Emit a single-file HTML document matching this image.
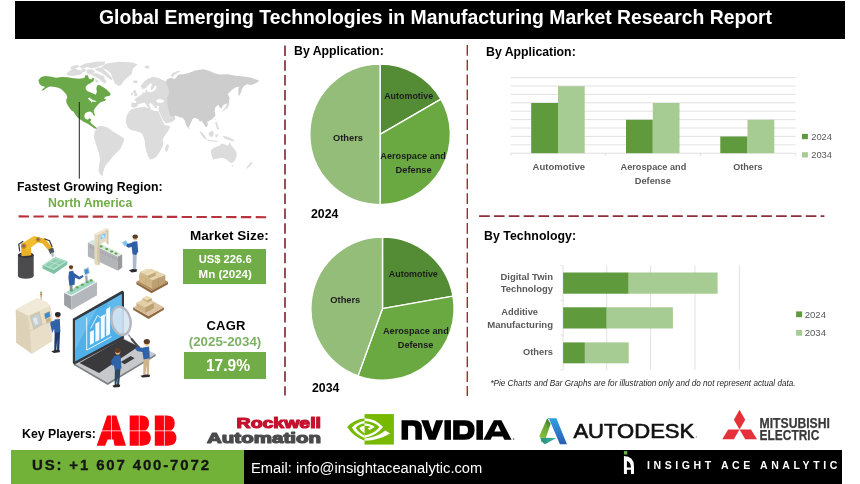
<!DOCTYPE html>
<html>
<head>
<meta charset="utf-8">
<title>Global Emerging Technologies in Manufacturing Market Research Report</title>
<style>
html,body{margin:0;padding:0;background:#fff;}
body{width:860px;height:484px;position:relative;overflow:hidden;font-family:"Liberation Sans",sans-serif;color:#000;}
.a{position:absolute;}
.t,.c,svg{will-change:transform;}
.t{position:absolute;white-space:nowrap;line-height:1;transform-origin:0 0;font-weight:bold;}
.c{position:absolute;white-space:nowrap;line-height:1;font-weight:bold;text-align:center;transform-origin:50% 0;}
svg{position:absolute;left:0;top:0;overflow:visible;}
</style>
</head>
<body>
<!-- title bar -->
<div class="a" id="titlebar" style="left:15px;top:1.2px;width:830px;height:37.9px;background:#000;"></div>
<div class="t" id="title" style="left:99.3px;top:7.5px;font-size:19.37px;color:#fff;">Global Emerging Technologies in Manufacturing Market Research Report</div>

<!-- main svg layer: lines, charts -->
<svg id="main" width="860" height="484" viewBox="0 0 860 484">
  <!-- dashed separators -->
  <g fill="none">
    <line x1="18.6" y1="216.4" x2="266.2" y2="217.2" stroke="#b8323c" stroke-width="2.1" stroke-dasharray="10.4 4.42"/>
    <line x1="479.1" y1="216.2" x2="824.4" y2="216.2" stroke="#8e2c38" stroke-width="1.7" stroke-dasharray="10.6 4.25"/>
    <line x1="285" y1="45.5" x2="285" y2="395.6" stroke="#8c3c48" stroke-width="1.8" stroke-dasharray="10.5 4.31"/>
    <line x1="467.3" y1="44.9" x2="467.3" y2="396" stroke="#a82830" stroke-width="1.4" stroke-dasharray="10.85 3.985"/>
  </g>

<!--MAP-->
<g id="map">
<g fill="#dcdcdc">
  <path d="M100.6 67.6L106.4 63.4L119.0 61.8L132.7 62.4L137.4 64.5L132.7 68.7L131.7 74.0L125.3 79.2L120.6 85.6L118.5 86.1L114.8 83.5L112.7 78.2L110.6 72.9L106.4 69.8Z"/>
  <path d="M66.3 74.0L69.5 70.8L74.8 68.2L77.9 69.8L81.1 70.8L82.7 73.4L79.0 75.0L72.6 76.1L67.9 75.5Z"/>
  <path d="M79.0 66.6L85.3 63.4L91.6 62.4L97.9 61.5L105.3 61.8L104.3 64.5L100.0 66.1L95.8 67.6L91.6 68.2L87.4 67.1L82.7 68.7Z"/>
  <path d="M86.3 69.8L91.6 69.2L94.8 70.8L93.7 73.4L89.5 74.5L86.9 72.9Z"/>
  <path d="M90.6 74.5L95.8 72.9L100.0 74.5L103.7 77.7L106.4 81.3L105.3 83.5L102.1 81.9L99.0 78.7L94.8 76.6Z"/>
  <path d="M94.8 79.2L97.9 80.3L99.0 82.6L96.4 82.6Z"/>
  <path d="M70.0 67.6L73.7 65.5L77.9 65.0L79.5 66.6L75.8 68.2L71.6 69.8Z"/>
  <path d="M81.1 69.8L84.2 68.5L86.1 69.8L84.8 71.9L82.1 72.4Z"/>
  <path d="M94.8 68.7L98.5 67.4L102.1 67.9L105.3 70.8L109.5 75.0L112.7 78.7L111.6 80.3L107.9 77.7L104.3 74.5L100.0 71.9L96.4 70.8Z"/>
  <path d="M100.0 76.1L103.2 75.5L104.8 77.7L102.1 78.4Z"/>
  <path d="M132.7 81.1L135.9 80.3L138.2 81.6L136.9 83.0L133.8 83.0Z"/>
  <path d="M144.3 66.4L147.5 65.5L149.8 66.8L148.0 68.7L145.4 68.2Z"/>
  <path d="M133.8 89.8L135.7 90.3L136.1 92.4L137.4 94.2L136.9 95.9L133.8 96.3L134.6 94.2L133.3 92.4Z"/>
  <path d="M130.8 92.9L132.7 92.4L132.9 94.8L131.1 95.4Z"/>
  <path d="M96.3 127.7L99.6 125.9L103.8 126.2L108.1 127.7L112.9 131.5L118.2 134.5L124.2 138.6L123.5 142.0L120.5 148.8L116.7 152.6L112.9 156.4L109.1 161.2L105.4 165.5L103.8 170.0L102.8 173.8L103.1 176.1L101.1 175.3L98.5 171.5L99.0 165.5L100.1 159.4L98.5 151.9L95.5 142.8L94.0 137.5L94.5 132.2Z"/>
  <path d="M126.5 116.3L128.8 111.8L131.1 109.5L137.1 107.7L144.7 106.8L150.7 109.2L154.5 111.0L158.3 111.3L160.5 116.3L162.8 121.6L164.6 125.0L170.4 125.9L168.8 129.9L165.1 135.2L162.8 139.0L163.1 145.8L160.5 150.4L156.7 156.4L153.0 159.1L149.9 159.4L147.7 155.6L146.2 151.1L145.0 145.1L144.7 140.5L142.8 135.2L141.3 133.0L135.6 131.0L131.1 129.9L128.0 127.7L125.8 122.4Z"/>
  <path d="M167.6 144.0L169.1 145.5L167.6 150.4L165.8 152.2L165.1 148.8L166.1 145.5Z"/>
  <path d="M168.0 82.1L162.6 79.9L158.6 78.1L153.2 76.8L147.8 78.8L143.8 82.1L140.8 85.5L141.8 88.9L145.1 88.5L147.8 85.8L150.8 83.1L152.1 84.4L150.8 87.5L151.3 90.6L153.2 88.9L154.8 85.8L156.7 86.3L155.9 88.9L153.9 91.1L150.5 92.2L147.8 91.9L146.7 89.8L145.4 90.6L145.1 92.9L143.1 91.9L142.2 94.2L139.1 96.2L135.7 98.3L134.1 100.3L136.4 101.3L136.0 103.0L131.7 102.4L130.9 106.3L133.3 107.8L136.5 107.0L138.2 104.6L141.8 103.2L144.6 102.4L146.5 105.0L149.4 109.4L150.8 108.6L148.9 104.3L150.5 102.7L153.5 105.4L155.3 108.6L157.5 107.8L156.7 105.4L159.6 106.3L158.6 107.2L158.7 110.7L160.6 115.0L163.0 119.9L165.7 123.6L172.0 122.0L175.5 119.3L174.9 116.4L172.7 113.7L171.3 111.7L173.3 111.7L173.3 100.3L170.6 86.8Z"/>
  <path d="M170.7 75.3L173.6 72.6L178.0 71.0L180.8 71.3L177.2 72.9L174.0 75.3L172.7 77.5Z"/>
  <path d="M210.7 150.2L215.2 147.2L219.8 145.4L222.0 143.5L225.1 144.5L228.1 145.7L229.6 142.0L231.1 145.0L234.1 148.7L236.4 152.1L236.7 156.3L234.9 160.8L231.8 163.1L229.6 162.3L226.6 159.6L222.8 157.8L218.3 158.5L213.0 159.6L211.5 155.5Z"/>
  <path d="M231.1 165.0L233.3 165.0L232.6 166.8Z"/>
  <path d="M250.7 162.0L252.7 162.6L250.7 165.3L248.4 167.6L246.2 169.1L246.9 166.8L249.2 164.6Z"/>
  <path d="M199.4 131.4L201.4 131.8L204.4 135.2L207.0 138.9L205.4 139.4L202.4 136.4Z"/>
  <path d="M208.5 132.9L212.2 130.6L214.0 132.9L213.0 136.4L209.5 136.7Z"/>
  <path d="M207.0 139.7L212.2 140.3L218.3 140.9L218.0 141.8L212.2 141.5L207.3 140.7Z"/>
  <path d="M215.2 134.4L218.0 134.0L217.1 137.4L215.6 137.4Z"/>
  <path d="M222.8 135.9L226.6 136.4L230.3 137.9L234.9 140.4L232.6 141.2L228.8 140.0L224.3 138.5Z"/>
  <path d="M215.2 121.9L217.1 122.3L218.0 126.1L219.2 129.1L217.7 129.9L216.0 126.1Z"/>
  <path d="M214.6 118.9L215.7 118.9L215.2 120.7Z"/>
  <path d="M227.7 99.8L229.6 103.8L227.7 107.9L224.4 110.3L222.0 111.2L225.2 107.4L226.9 103.8Z"/>
</g>
  <path d="M156.1 100.3L159.2 98.9L163.3 99.7L164.2 101.9L160.6 103.0L157.2 102.4Z" fill="#fff"/>
<g fill="#cdcdcd">
  <path d="M166.6 79.4L170.7 77.8L174.8 79.1L178.8 74.5L183.7 74.2L188.6 72.9L195.1 70.5L203.3 69.3L209.8 71.0L214.6 73.2L219.5 74.5L227.7 74.2L235.8 75.8L244.0 76.5L250.5 77.5L259.4 80.7L255.3 83.5L251.3 85.1L247.2 84.3L244.0 85.9L242.3 88.4L240.7 93.3L238.7 94.9L238.3 90.0L239.4 86.7L235.8 87.2L231.7 90.0L227.7 94.1L229.6 98.1L229.0 102.5L226.0 103.8L222.8 105.5L221.5 108.4L219.5 107.4L218.7 104.7L215.5 107.1L214.6 111.2L215.5 115.6L212.2 119.3L209.8 120.4L207.3 121.7L207.8 125.3L206.2 127.4L204.1 124.7L201.6 120.4L200.0 122.1L198.4 119.3L195.1 117.7L192.7 118.8L190.6 123.4L188.3 128.6L186.2 125.0L184.5 120.1L182.4 117.7L178.8 116.9L175.6 115.6L172.7 116.9L169.9 115.2L168.7 110.3L167.4 103.8L167.1 98.1L169.1 94.1L168.3 87.6L166.1 83.5Z"/>
  <path d="M238.7 90.0L240.0 94.9L238.7 95.7Z"/>
  <path d="M189.3 127.6L190.2 127.9L189.8 129.4Z"/>
</g>
<path d="M38.4 80.2L40.9 77.3L44.5 75.9L50.3 76.6L56.0 77.7L61.8 76.9L67.6 77.3L73.4 78.3L79.2 78.7L84.3 78.0L85.7 75.1L87.9 75.4L89.0 78.7L91.5 79.5L92.5 77.7L94.0 78.0L93.7 80.9L90.8 83.1L87.9 84.5L85.7 86.7L85.7 88.9L87.2 91.0L90.8 92.5L93.7 93.7L95.8 94.7L96.9 91.8L96.3 88.2L97.3 85.3L99.5 85.0L102.4 86.7L106.0 88.9L108.9 91.8L110.8 93.9L109.6 95.7L106.0 96.5L103.8 98.3L106.4 99.4L104.5 100.9L100.9 101.9L98.7 103.8L96.6 106.2L94.8 108.4L93.7 111.0L94.4 113.5L95.1 115.7L93.7 115.4L92.2 112.8L90.1 111.6L87.2 112.0L85.0 113.5L84.3 115.9L85.0 118.5L87.6 119.7L89.6 118.3L91.5 119.7L90.1 121.7L91.5 123.6L93.7 125.5L95.8 126.9L96.9 128.7L94.4 128.4L90.8 125.8L87.2 123.6L83.5 121.7L80.7 119.7L77.8 117.8L76.3 115.9L73.4 111.6L72.0 111.0L69.8 108.4L67.9 105.5L66.5 102.9L66.2 99.7L67.3 97.6L66.5 94.7L64.0 91.8L61.1 88.9L57.5 87.4L53.2 86.7L49.5 86.4L46.6 87.9L43.7 89.9L41.3 91.3L42.7 88.9L45.2 86.7L41.6 86.0L39.4 83.8Z" fill="#6aa84a"/>
<path d="M87.9 98.6L89.6 97.6L90.8 98.6L92.5 99.7L94.8 100.5L96.9 101.2L94.8 102.0L92.5 101.5L91.5 102.9L90.5 100.9L89.0 99.7Z" fill="#fff" opacity="0.9"/>
<line x1="79.3" y1="102" x2="79.3" y2="178.7" stroke="#222" stroke-width="1"/></g>

<!--/MAP-->
<!--ILLU-->
<g id="illu">
<path d="M17.9 254.9L33.7 254.9L33.7 276.0L17.9 276.0Z" fill="#4b4b4d"/>
<ellipse cx="25.8" cy="276.0" rx="7.9" ry="2.8" fill="#4b4b4d"/>
<ellipse cx="25.8" cy="254.9" rx="7.9" ry="2.8" fill="#2f2f31"/>
<ellipse cx="25.8" cy="254.5" rx="5.3" ry="1.8" fill="#5a5a5c"/>
<path d="M20.9 244.3L30.7 242.6L31.4 255.2L21.6 256.3Z" fill="#eab02a"/>
<path d="M20.9 244.3L33.7 235.9L39.0 237.3L39.5 241.2L30.7 247.8L27.6 251.4Z" fill="#f2bd33"/>
<path d="M36.4 237.0L45.1 238.7L53.1 248.7L49.5 251.4L42.5 243.5L37.2 242.2Z" fill="#eab02a"/>
<ellipse cx="23.7" cy="246.1" rx="2.8" ry="2.8" fill="#c9931c"/>
<ellipse cx="38.1" cy="239.4" rx="2.5" ry="2.5" fill="#c9931c"/>
<ellipse cx="23.7" cy="246.1" rx="1.4" ry="1.4" fill="#6b6b6b"/>
<ellipse cx="38.1" cy="239.4" rx="1.2" ry="1.2" fill="#6b6b6b"/>
<path d="M19.7 251.4L18.8 244.3L23.2 241.2" fill="none" stroke="#3a3a3a" stroke-width="1.2"/>
<path d="M44.3 238.7L49.5 240.8L52.2 247.0" fill="none" stroke="#3a3a3a" stroke-width="1.2"/>
<path d="M48.3 249.3L53.1 247.5L54.3 252.2L50.1 254.0Z" fill="#4d5560"/>
<path d="M50.8 253.1L53.2 252.4L53.9 256.3L52.2 257.0Z" fill="#aeb6bf"/>
<path d="M42.5 265.2L55.2 257.0L67.3 261.2L67.3 264.4L53.9 274.0L42.5 268.6Z" fill="#7fc2a3"/>
<path d="M42.5 265.2L55.2 257.0L67.3 261.2L53.9 270.0Z" fill="#b5e2cd"/>
<path d="M44.8 265.2L55.0 258.6L64.8 261.6L53.9 268.2Z" fill="#8fcdb0"/>
<path d="M49.0 261.2L59.9 265.1" fill="none" stroke="#b5e2cd" stroke-width="0.9"/>
<path d="M49.4 266.7L60.1 260.0" fill="none" stroke="#b5e2cd" stroke-width="0.9"/>
<path d="M51.5 253.1L52.2 257.5" fill="none" stroke="#c8cdd2" stroke-width="0.5"/>
<path d="M52.9 252.8L56.0 257.0" fill="none" stroke="#c8cdd2" stroke-width="0.5"/>
<path d="M64.1 292.7L71.5 296.2L71.5 310.1L64.1 305.0Z" fill="#9c9fa3"/>
<path d="M71.5 296.2L97.0 282.1L97.0 295.3L71.5 310.1Z" fill="#b4b7bb"/>
<path d="M64.1 292.7L90.0 278.6L97.0 282.1L71.5 296.2Z" fill="#e9f1f0"/>
<path d="M65.9 292.5L90.1 279.7L95.1 282.1L71.3 294.9Z" fill="#9fd6c6"/>
<ellipse cx="71.5" cy="290.4" rx="1.6" ry="1.1" fill="#5fa83f"/>
<ellipse cx="77.1" cy="287.4" rx="1.6" ry="1.1" fill="#5fa83f"/>
<ellipse cx="82.4" cy="284.8" rx="1.6" ry="1.1" fill="#5fa83f"/>
<ellipse cx="87.3" cy="282.1" rx="1.6" ry="1.1" fill="#5fa83f"/>
<ellipse cx="91.2" cy="280.4" rx="1.6" ry="1.1" fill="#5fa83f"/>
<path d="M85.2 276.0L87.3 275.3L87.7 281.2L85.6 281.9Z" fill="#9aa0a6"/>
<path d="M83.5 268.9L88.7 266.8L90.0 273.3L84.7 276.0Z" fill="#c9ced3"/>
<path d="M84.3 270.0L88.0 268.4L88.9 272.8L85.2 274.4Z" fill="#3b93d6"/>
<path d="M69.6 283.9L72.7 283.9L72.4 290.4L69.8 290.4Z" fill="#8a8f96"/>
<path d="M69.0 271.6L73.2 270.7L75.0 277.7L74.6 284.8L69.4 285.6L68.4 277.7Z" fill="#2f5fa5"/>
<path d="M73.3 272.5L79.4 276.8L82.9 275.1L83.5 276.7L79.4 279.5L72.9 276.8Z" fill="#2f5fa5"/>
<ellipse cx="71.0" cy="268.0" rx="1.8" ry="2.2" fill="#e9b98c"/>
<ellipse cx="71.0" cy="267.1" rx="2.2" ry="1.8" fill="#5a3d22"/>
<path d="M87.9 242.2L117.8 256.6L117.8 270.7L87.9 256.6Z" fill="#b3b5b8"/>
<path d="M117.8 256.6L122.2 254.2L122.2 267.5L117.8 270.7Z" fill="#989a9e"/>
<path d="M87.9 242.2L92.7 239.8L122.2 254.2L117.8 256.6Z" fill="#e4ebe9"/>
<path d="M89.7 242.2L93.0 240.6L120.1 254.0L117.3 255.6Z" fill="#cfe5dd"/>
<ellipse cx="101.1" cy="246.4" rx="1.6" ry="1.1" fill="#5fa83f"/>
<ellipse cx="106.7" cy="249.1" rx="1.6" ry="1.1" fill="#5fa83f"/>
<ellipse cx="111.6" cy="251.5" rx="1.6" ry="1.1" fill="#5fa83f"/>
<ellipse cx="116.0" cy="253.6" rx="1.6" ry="1.1" fill="#5fa83f"/>
<path d="M90.5 245.6L90.5 248.2" fill="none" stroke="#8d9094" stroke-width="0.5"/>
<path d="M93.0 246.8L93.0 249.4" fill="none" stroke="#8d9094" stroke-width="0.5"/>
<path d="M95.5 248.0L95.5 250.6" fill="none" stroke="#8d9094" stroke-width="0.5"/>
<path d="M97.9 249.1L97.9 251.8" fill="none" stroke="#8d9094" stroke-width="0.5"/>
<path d="M100.4 250.3L100.4 253.0" fill="none" stroke="#8d9094" stroke-width="0.5"/>
<path d="M102.8 251.5L102.8 254.1" fill="none" stroke="#8d9094" stroke-width="0.5"/>
<path d="M105.3 252.7L105.3 255.3" fill="none" stroke="#8d9094" stroke-width="0.5"/>
<path d="M107.8 253.9L107.8 256.5" fill="none" stroke="#8d9094" stroke-width="0.5"/>
<path d="M110.2 255.0L110.2 257.7" fill="none" stroke="#8d9094" stroke-width="0.5"/>
<path d="M112.7 256.2L112.7 258.9" fill="none" stroke="#8d9094" stroke-width="0.5"/>
<path d="M115.1 257.4L115.1 260.0" fill="none" stroke="#8d9094" stroke-width="0.5"/>
<path d="M117.6 258.6L117.6 261.2" fill="none" stroke="#8d9094" stroke-width="0.5"/>
<path d="M94.4 234.1L97.6 235.2L97.6 265.4L94.4 264.0Z" fill="#e3d7bd"/>
<path d="M94.4 234.1L106.4 227.8L108.5 229.2L97.6 235.2Z" fill="#efe6d1"/>
<path d="M97.6 235.2L108.5 229.2L108.5 244.7L106.4 243.6L106.4 233.4L99.7 237.0L99.7 264.4L97.6 265.4Z" fill="#d3c5a6"/>
<path d="M99.7 234.7L106.4 231.3L106.4 241.2L99.7 244.3Z" fill="#e6dcc4"/>
<path d="M100.6 235.5L105.5 233.1L105.5 237.3L100.6 239.8Z" fill="#7cc4ee"/>
<ellipse cx="103.0" cy="236.4" rx="1.4" ry="1.2" fill="#d9f0fb"/>
<path d="M120.9 242.2L126.0 239.8L129.2 244.3L124.3 247.1Z" fill="#e8eef5"/>
<path d="M122.2 242.4L125.9 240.6L128.2 244.2L124.5 246.1Z" fill="#7fc4ee"/>
<path d="M132.7 253.1L136.8 253.1L136.2 268.9L134.5 269.8L132.8 268.9Z" fill="#a9bacd"/>
<path d="M128.9 270.3L132.7 268.9L137.1 269.3L136.6 271.7L131.8 272.5Z" fill="#2b2b2b"/>
<path d="M132.4 241.7L137.3 241.2L138.2 251.4L136.2 254.9L132.6 254.2L131.7 247.8Z" fill="#2f5fa5"/>
<path d="M132.7 242.6L127.1 244.0L126.0 246.1L128.3 247.8L133.6 246.4Z" fill="#2f5fa5"/>
<ellipse cx="135.2" cy="237.7" rx="2.2" ry="2.7" fill="#e9b98c"/>
<ellipse cx="135.2" cy="236.6" rx="2.7" ry="2.2" fill="#5a3d22"/>
<path d="M41.1 291.8L41.1 301.2" fill="none" stroke="#9a9a9a" stroke-width="0.8"/>
<ellipse cx="41.1" cy="292.5" rx="0.7" ry="1.1" fill="#5aa83f"/>
<ellipse cx="41.1" cy="294.3" rx="0.7" ry="0.9" fill="#d9482b"/>
<ellipse cx="41.1" cy="295.9" rx="0.7" ry="0.9" fill="#e0a030"/>
<path d="M15.8 309.6L36.7 298.2L47.3 302.4L50.1 305.9L52.2 316.1L52.2 341.0L31.8 353.7L16.3 342.8Z" fill="#e5dbc3"/>
<path d="M15.8 309.6L36.7 298.2L47.3 302.4L50.1 305.9L27.6 315.7Z" fill="#f1ead8"/>
<path d="M15.8 309.6L27.6 315.7L29.3 323.1L31.8 353.7L16.3 342.8Z" fill="#ddd2b8"/>
<path d="M27.6 315.7L50.1 305.9L52.2 316.1L52.2 341.0L31.8 353.7L29.3 323.1Z" fill="#e9dfc8"/>
<path d="M29.7 316.1L39.5 311.2L42.7 324.5L33.7 330.1Z" fill="#cfc4a8"/>
<path d="M31.1 317.0L38.8 313.1L41.3 324.0L34.3 328.0Z" fill="#c3cdd3"/>
<path d="M32.8 318.7L36.4 317.0L38.1 323.1L35.5 324.9Z" fill="#e2e9ec"/>
<path d="M44.3 313.5L49.7 311.2L50.4 316.8L45.1 319.3Z" fill="#8b8f94"/>
<path d="M45.0 314.2L49.2 312.4L49.7 316.3L45.7 318.0Z" fill="#2f8fd6"/>
<path d="M46.0 319.6L50.4 317.5L50.9 321.7L46.7 323.8Z" fill="#cbb17a"/>
<path d="M29.7 331.0L53.1 319.6" fill="none" stroke="#d3c8ad" stroke-width="0.6"/>
<path d="M54.7 331.0L60.1 331.0L59.2 350.9L57.0 350.9L57.3 338.9L56.2 350.9L54.2 350.9Z" fill="#1f3a6e"/>
<path d="M51.3 351.2L56.0 349.8L60.1 350.4L59.6 352.3L53.9 353.0Z" fill="#2b2b2b"/>
<path d="M54.5 319.6L59.8 318.9L60.4 331.9L54.5 332.8L53.8 325.8Z" fill="#2f62a8"/>
<path d="M54.8 320.5L51.3 321.4L50.1 323.1L52.2 332.8L54.3 328.4Z" fill="#2f62a8"/>
<ellipse cx="57.8" cy="315.7" rx="2.4" ry="2.8" fill="#e9b98c"/>
<ellipse cx="57.8" cy="314.5" rx="2.8" ry="2.4" fill="#26262e"/>
<path d="M73.7 363.1L123.1 338.1L155.7 354.0L107.7 382.8Z" fill="#c6c8cb"/>
<path d="M73.7 363.1L107.7 382.8L155.7 354.0L155.7 355.9L107.7 385.0L73.7 365.0Z" fill="#7f8286"/>
<path d="M79.5 362.9L122.5 338.8L138.5 346.4L99.1 372.9Z" fill="#3a3a3c"/>
<path d="M120.7 362.0L130.7 356.1L134.6 358.3L124.7 364.2Z" fill="#3a3a3c"/>
<path d="M72.8 318.8L122.3 290.6L124.0 291.9L124.0 338.4L74.5 364.4L72.8 363.1Z" fill="#35383d"/>
<path d="M75.0 320.6L121.8 294.1L121.8 336.6L75.0 361.4Z" fill="#50b1ea"/>
<path d="M75.0 320.6L97.5 307.8L75.0 350.1Z" fill="#7cc8f3" opacity="0.55"/>
<path d="M108.4 301.7L121.8 294.1L121.8 311.0L97.5 337.1Z" fill="#7cc8f3" opacity="0.35"/>
<path d="M86.7 317.5L86.7 350.1L111.6 336.6" fill="none" stroke="#eaf6fd" stroke-width="1.0"/>
<path d="M89.9 345.1L93.9 342.9L93.9 329.9L89.9 332.0Z" fill="#f4fbff"/>
<path d="M95.4 342.1L99.3 340.0L99.3 321.5L95.4 323.7Z" fill="#f4fbff"/>
<path d="M100.8 339.2L104.7 337.0L104.7 314.3L100.8 316.4Z" fill="#f4fbff"/>
<path d="M106.2 336.3L110.1 334.1L110.1 307.0L106.2 309.2Z" fill="#f4fbff"/>
<path d="M90.6 328.4L97.5 315.4L103.0 319.7L110.1 306.7" fill="none" stroke="#eaf6fd" stroke-width="0.9"/>
<path d="M136.4 281.7L151.6 290.6L168.0 281.7L168.0 284.2L151.6 293.3L136.4 284.2Z" fill="#8f6b40"/>
<path d="M136.4 281.7L151.8 273.4L168.0 281.7L151.6 290.6Z" fill="#b08a5a"/>
<path d="M139.1 274.1L152.5 280.4L152.5 288.9L139.1 281.7Z" fill="#cfb587"/>
<path d="M152.5 280.4L165.3 274.8L165.3 282.6L152.5 288.9Z" fill="#bda172"/>
<path d="M139.1 274.1L151.2 268.7L165.3 274.8L152.5 280.4Z" fill="#e4d3ac"/>
<path d="M139.8 271.8L147.8 275.6L147.8 279.1L139.8 275.3Z" fill="#d3ba8c"/>
<path d="M147.8 275.6L155.6 272.1L155.6 275.6L147.8 279.1Z" fill="#c1a577"/>
<path d="M139.8 271.8L147.6 268.6L155.6 272.1L147.8 275.6Z" fill="#eadbb6"/>
<path d="M143.8 273.7L151.6 270.5" fill="none" stroke="#d3ba8c" stroke-width="0.4"/>
<path d="M145.8 277.2L158.6 271.8" fill="none" stroke="#cfb587" stroke-width="0.4"/>
<path d="M145.8 283.5L145.8 277.4" fill="none" stroke="#bda172" stroke-width="0.4"/>
<path d="M158.6 285.2L158.6 277.7" fill="none" stroke="#a98d60" stroke-width="0.4"/>
<path d="M133.1 307.2L148.5 316.1L163.9 307.2L163.9 309.7L148.5 319.1L133.1 309.7Z" fill="#8f6b40"/>
<path d="M133.1 307.2L149.2 298.9L163.9 307.2L148.5 316.1Z" fill="#dcc1a3"/>
<path d="M136.4 302.7L145.1 307.2L145.1 313.0L136.4 308.1Z" fill="#cfb587"/>
<path d="M145.1 307.2L153.9 302.7L153.9 308.3L145.1 313.0Z" fill="#bda172"/>
<path d="M136.4 302.7L145.1 298.3L153.9 302.7L145.1 307.2Z" fill="#e4d3ac"/>
<path d="M142.4 297.9L147.1 300.3L147.1 302.4L142.4 300.0Z" fill="#d3ba8c"/>
<path d="M147.1 300.3L151.8 298.1L151.8 300.3L147.1 302.4Z" fill="#c1a577"/>
<path d="M142.4 297.9L147.1 295.7L151.8 298.1L147.1 300.3Z" fill="#eadbb6"/>
<path d="M139.5 304.3L148.1 300.0" fill="none" stroke="#d3ba8c" stroke-width="0.4"/>
<path d="M142.2 305.9L150.8 301.3" fill="none" stroke="#d3ba8c" stroke-width="0.4"/>
<g transform="rotate(-12 121.0 320.8)">
<ellipse cx="121.0" cy="320.8" rx="9.5" ry="14.3" fill="#d6e6f3" stroke="#b4b8bf" stroke-width="2.4" fill-opacity="0.9"/>
</g>
<path d="M128.3 334.5L132.7 340.5" fill="none" stroke="#9aa0a8" stroke-width="1.6"/>
<path d="M131.8 339.2L138.8 347.5" fill="none" stroke="#4a4d52" stroke-width="2.2" stroke-linecap="round"/>
<path d="M114.9 368.5L120.5 368.5L119.1 385.2L117.0 385.2L117.5 376.1L116.3 385.2L114.6 385.2Z" fill="#2b4a60"/>
<path d="M112.3 385.7L116.6 384.3L120.3 384.8L119.7 387.0L114.0 387.6Z" fill="#2b2b2b"/>
<path d="M113.9 356.1L120.5 355.3L121.5 368.5L114.9 370.0L113.2 363.1Z" fill="#2f62a8"/>
<path d="M113.8 357.0L111.0 360.9L112.3 365.7L115.3 364.4Z" fill="#2f62a8"/>
<ellipse cx="117.7" cy="351.6" rx="2.6" ry="3.1" fill="#e9b98c"/>
<ellipse cx="117.7" cy="350.3" rx="3.1" ry="2.6" fill="#5a3d22"/>
<path d="M143.6 358.3L149.5 358.3L148.8 375.0L146.7 375.0L146.7 365.3L145.3 375.0L143.2 375.0Z" fill="#cdb48c"/>
<path d="M140.5 375.7L145.7 374.4L150.0 374.8L149.6 377.0L142.2 377.6Z" fill="#2b2b2b"/>
<path d="M142.9 347.5L149.1 346.6L149.8 358.3L143.6 359.6L142.6 353.3Z" fill="#2f62a8"/>
<path d="M143.1 348.3L136.6 346.8L134.8 348.3L137.0 350.9L143.5 352.2Z" fill="#2f62a8"/>
<ellipse cx="146.8" cy="342.8" rx="2.6" ry="3.1" fill="#e9b98c"/>
<ellipse cx="146.8" cy="341.5" rx="3.1" ry="2.6" fill="#5a3d22"/>
</g>
<!--/ILLU-->
<!--LOGO1-->
<g id="abb" transform="translate(92 408) scale(0.10465)">
  <g fill="#ff000f">
    <path d="M145 72H232L325 360H215L205 300H150L125 360H45Z"/>
    <path d="M360 72H470Q545 72 545 145Q545 195 510 212Q562 230 562 290Q562 360 480 360H360Z"/>
    <path d="M600 72H715Q790 72 790 145Q790 195 755 212Q807 230 807 290Q807 360 725 360H600Z"/>
  </g>
  <g stroke="#fff" stroke-width="7" fill="none">
    <line x1="40" y1="218" x2="815" y2="218"/>
    <line x1="186" y1="65" x2="186" y2="305"/>
    <line x1="452" y1="65" x2="452" y2="365"/>
    <line x1="692" y1="65" x2="692" y2="365"/>
  </g>
</g>
<g id="rockwell" font-family="Liberation Sans, sans-serif" font-weight="bold">
  <text x="236.6" y="428.2" font-size="15.2" textLength="84.4" lengthAdjust="spacingAndGlyphs" fill="#c4122f" stroke="#c4122f" stroke-width="1.2" stroke-linejoin="round">Rockwell</text>
  <text x="207" y="442.9" font-size="14.6" textLength="114" lengthAdjust="spacingAndGlyphs" fill="#4b4b4d" stroke="#4b4b4d" stroke-width="1.2" stroke-linejoin="round">Automation</text>
</g>
<g id="nvidia">
  <g transform="translate(344 410) scale(0.07855)">
    <rect x="262" y="52" width="373" height="388" fill="#76b900"/>
    <g fill="#76b900">
      <path d="M40 215Q130 120 262 105V140Q160 155 100 222Q150 310 262 355V390Q120 340 40 215Z"/>
      <path d="M262 170Q190 180 150 228Q185 290 262 325V295Q215 272 195 230Q220 205 262 200Z"/>
    </g>
    <g fill="#fff">
      <path d="M262 105Q400 110 497 215Q420 320 262 355V325Q390 295 452 215Q385 145 262 140Z"/>
      <path d="M262 392Q440 385 588 298L525 262Q420 350 262 362Z"/>
      <path d="M262 170Q340 175 392 218L325 255L300 232L340 215Q310 200 262 200Z"/>
    </g>
  </g>
  <g transform="translate(395 410) scale(0.14535)" fill="#000" fill-rule="evenodd">
    <path d="M45 205V70H130Q185 70 185 125V205H140V130Q140 108 118 108H90V205Z"/>
    <path d="M180 70H230L256 150L282 70H332L280 205H232Z"/>
    <path d="M340 70H385V205H340Z"/>
    <path d="M400 70H480Q548 70 548 137Q548 205 480 205H400ZM445 108V167H478Q502 167 502 137Q502 108 478 108Z"/>
    <path d="M560 70H605V205H560Z"/>
    <path d="M680 70H732L802 205H752L742 182H668L658 205H608ZM683 148H728L706 100Z"/>
    <circle cx="816" cy="200" r="5" fill="#444"/>
  </g>
</g>
<g id="autodesk">
  <defs>
    <linearGradient id="adg" x1="0.2" y1="1" x2="0.8" y2="0"><stop offset="0" stop-color="#86c03c"/><stop offset="0.6" stop-color="#6aa636"/><stop offset="1" stop-color="#3d7430"/></linearGradient>
    <linearGradient id="adb" x1="0" y1="0" x2="0" y2="1"><stop offset="0" stop-color="#2f9fe2"/><stop offset="1" stop-color="#2a5cb4"/></linearGradient>
    <linearGradient id="adt" x1="0" y1="0" x2="1" y2="0"><stop offset="0" stop-color="#2a8f78"/><stop offset="1" stop-color="#3fb0a6"/></linearGradient>
  </defs>
  <g transform="translate(534 412) scale(0.07855)">
    <path d="M80 328L285 332L140 412L95 375Z" fill="url(#adt)"/>
    <path d="M168 80L212 150L150 332L80 328L68 305Z" fill="url(#adg)"/>
    <path d="M170 80H285L420 410H330L195 95Z" fill="url(#adb)"/>
  </g>
  <text x="573.4" y="437.6" font-family="Liberation Sans, sans-serif" font-size="21" textLength="120.9" lengthAdjust="spacingAndGlyphs" fill="#111" stroke="#111" stroke-width="0.65">AUTODESK</text>
  <circle cx="696.4" cy="436.9" r="0.6" fill="#777"/>
</g>
<g id="mitsubishi">
  <g transform="translate(715 403) scale(0.15117)" fill="#e6303a">
    <path d="M162 45L200 110L162 175L125 110Z"/>
    <path d="M87 175H162L125 240H48Z"/>
    <path d="M162 175H238L278 240H200Z"/>
  </g>
  <g font-family="Liberation Sans, sans-serif" font-weight="bold" font-size="14.6" fill="#3a3a3a" stroke="#3a3a3a" stroke-width="0.25">
    <text x="759.6" y="427.9" textLength="70.3" lengthAdjust="spacingAndGlyphs">MITSUBISHI</text>
    <text x="759.6" y="440" textLength="59.7" lengthAdjust="spacingAndGlyphs">ELECTRIC</text>
  </g>
</g>

<!--/LOGO1-->
  <!-- pie 2024 -->
  <g stroke="#fff" stroke-width="1.4" stroke-linejoin="round">
    <path d="M380.1 134.3L380.10 64.00A70.3 70.3 0 0 1 440.98 99.15Z" fill="#548c35"/>
    <path d="M380.1 134.3L440.98 99.15A70.3 70.3 0 0 1 380.10 204.60Z" fill="#6aa842"/>
    <path d="M380.1 134.3L380.10 204.60A70.3 70.3 0 0 1 380.10 64.00Z" fill="#93bd78"/>
  </g>
  <!-- pie 2034 -->
  <g stroke="#fff" stroke-width="1.4" stroke-linejoin="round">
    <path d="M382.5 308.6L382.50 237.00A71.6 71.6 0 0 1 453.01 296.17Z" fill="#548c35"/>
    <path d="M382.5 308.6L453.01 296.17A71.6 71.6 0 0 1 358.01 375.88Z" fill="#6aa842"/>
    <path d="M382.5 308.6L358.01 375.88A71.6 71.6 0 0 1 382.50 237.00Z" fill="#93bd78"/>
  </g>
  <g font-family="Liberation Sans, sans-serif" font-weight="bold" font-size="9.2" fill="#1c1c1c" lengthAdjust="spacingAndGlyphs">
    <text x="384.2" y="98.7" textLength="49" lengthAdjust="spacingAndGlyphs">Automotive</text>
    <text x="333" y="140.7" textLength="30" lengthAdjust="spacingAndGlyphs">Others</text>
    <text x="380.3" y="158.7" textLength="65.6" lengthAdjust="spacingAndGlyphs">Aerospace and</text>
    <text x="395.5" y="172.5" textLength="36.2" lengthAdjust="spacingAndGlyphs">Defense</text>
    <text x="388.8" y="276.9" textLength="49" lengthAdjust="spacingAndGlyphs">Automotive</text>
    <text x="330.3" y="303.2" textLength="30" lengthAdjust="spacingAndGlyphs">Others</text>
    <text x="382.9" y="333.8" textLength="65.9" lengthAdjust="spacingAndGlyphs">Aerospace and</text>
    <text x="397.8" y="348" textLength="35.5" lengthAdjust="spacingAndGlyphs">Defense</text>
  </g>

  <!-- bar chart: by application -->
  <g stroke="#d9d9d9" stroke-width="0.8">
    <line x1="510.8" x2="795.6" y1="77.6" y2="77.6"/>
    <line x1="510.8" x2="795.6" y1="86.0" y2="86.0"/>
    <line x1="510.8" x2="795.6" y1="94.4" y2="94.4"/>
    <line x1="510.8" x2="795.6" y1="102.8" y2="102.8"/>
    <line x1="510.8" x2="795.6" y1="111.2" y2="111.2"/>
    <line x1="510.8" x2="795.6" y1="119.6" y2="119.6"/>
    <line x1="510.8" x2="795.6" y1="128.0" y2="128.0"/>
    <line x1="510.8" x2="795.6" y1="136.4" y2="136.4"/>
    <line x1="510.8" x2="795.6" y1="144.8" y2="144.8"/>
    <line x1="510.8" x2="795.6" y1="153.2" y2="153.2"/>
    <line x1="510.8" x2="510.8" y1="153.2" y2="155.9"/>
    <line x1="605.6" x2="605.6" y1="153.2" y2="155.9"/>
    <line x1="700.4" x2="700.4" y1="153.2" y2="155.9"/>
    <line x1="795.6" x2="795.6" y1="153.2" y2="155.9"/>
  </g>
  <g>
    <rect x="531.2" y="103.0" width="26.8" height="50.2" fill="#5f9a3c"/>
    <rect x="558" y="86.2" width="26.7" height="67" fill="#a6cb93"/>
    <rect x="626" y="119.8" width="26.8" height="33.4" fill="#5f9a3c"/>
    <rect x="652.8" y="103.0" width="26.7" height="50.2" fill="#a6cb93"/>
    <rect x="720.3" y="136.5" width="27.2" height="16.7" fill="#5f9a3c"/>
    <rect x="747.5" y="119.8" width="26.8" height="33.4" fill="#a6cb93"/>
    <rect x="802" y="133.9" width="5.9" height="5.3" fill="#5f9a3c"/>
    <rect x="802" y="152.2" width="5.9" height="5.3" fill="#a6cb93"/>
    <rect x="796.1" y="311.4" width="6" height="5.8" fill="#5f9a3c"/>
    <rect x="796.1" y="329.9" width="6" height="5.8" fill="#a6cb93"/>
  </g>
  <g font-family="Liberation Sans, sans-serif" font-weight="bold" font-size="9.4" fill="#595959">
    <text x="532.6" y="169.8" textLength="52.4" lengthAdjust="spacingAndGlyphs">Automotive</text>
    <text x="620.6" y="169.8" textLength="65.7" lengthAdjust="spacingAndGlyphs">Aerospace and</text>
    <text x="634.8" y="183.8" textLength="36" lengthAdjust="spacingAndGlyphs">Defense</text>
    <text x="733.2" y="169.8" textLength="29.3" lengthAdjust="spacingAndGlyphs">Others</text>
  </g>
  <g font-family="Liberation Sans, sans-serif" font-size="9.3" fill="#595959">
    <text x="811.2" y="139.8" textLength="20.8" lengthAdjust="spacingAndGlyphs">2024</text>
    <text x="811.2" y="157.9" textLength="20.8" lengthAdjust="spacingAndGlyphs">2034</text>
    <text x="804.7" y="317.5" textLength="21.3" lengthAdjust="spacingAndGlyphs">2024</text>
    <text x="804.7" y="335.8" textLength="21.3" lengthAdjust="spacingAndGlyphs">2034</text>
  </g>

  <!-- bar chart: by technology -->
  <g stroke="#d9d9d9" stroke-width="0.8">
    <line x1="563.1" x2="563.1" y1="265.6" y2="369.9"/>
    <line x1="606.7" x2="606.7" y1="265.6" y2="369.9"/>
    <line x1="650.5" x2="650.5" y1="265.6" y2="369.9"/>
    <line x1="694.9" x2="694.9" y1="265.6" y2="369.9"/>
    <line x1="739.4" x2="739.4" y1="265.6" y2="369.9"/>
    <line x1="560.5" x2="563.1" y1="265.6" y2="265.6"/>
    <line x1="560.5" x2="563.1" y1="300.3" y2="300.3"/>
    <line x1="560.5" x2="563.1" y1="335.1" y2="335.1"/>
    <line x1="560.5" x2="563.1" y1="369.9" y2="369.9"/>
  </g>
  <g>
    <rect x="563.1" y="272.5" width="65.6" height="21.2" fill="#5f9a3c"/>
    <rect x="628.7" y="272.5" width="88.9" height="21.2" fill="#a6cb93"/>
    <rect x="563.1" y="307.3" width="43.6" height="21.2" fill="#5f9a3c"/>
    <rect x="606.7" y="307.3" width="66.2" height="21.2" fill="#a6cb93"/>
    <rect x="563.1" y="342.4" width="21.8" height="20.9" fill="#5f9a3c"/>
    <rect x="584.9" y="342.4" width="43.8" height="20.9" fill="#a6cb93"/>
  </g>
  <g font-family="Liberation Sans, sans-serif" font-weight="bold" font-size="9.4" fill="#595959">
    <text x="500.4" y="279.5" textLength="52.6" lengthAdjust="spacingAndGlyphs">Digital Twin</text>
    <text x="500.8" y="292.2" textLength="52.2" lengthAdjust="spacingAndGlyphs">Technology</text>
    <text x="501.3" y="314.9" textLength="36.7" lengthAdjust="spacingAndGlyphs">Additive</text>
    <text x="487.2" y="327.6" textLength="65.8" lengthAdjust="spacingAndGlyphs">Manufacturing</text>
    <text x="523" y="355.3" textLength="30" lengthAdjust="spacingAndGlyphs">Others</text>
  </g>
  <text x="490.4" y="386.3" font-family="Liberation Sans, sans-serif" font-style="italic" font-size="8.6" fill="#262626" textLength="305.2" lengthAdjust="spacingAndGlyphs">*Pie Charts and Bar Graphs are for illustration only and do not represent actual data.</text>
</svg>

<!-- left labels -->
<div class="t" id="fgr" style="left:17px;top:181.3px;font-size:12.3px;">Fastest Growing Region:</div>
<div class="t" id="na" style="left:48px;top:196.5px;font-size:12.3px;color:#70ad47;">North America</div>
<div class="t" id="ms" style="left:189.8px;top:228.7px;font-size:13.5px;">Market Size:</div>
<div class="a" style="left:183.4px;top:248.9px;width:82.4px;height:35.2px;background:#70ad47;"></div>
<div class="c" id="us1" style="left:184.1px;width:82.4px;top:253.8px;font-size:11.2px;color:#fff;">US$ 226.6</div>
<div class="c" id="us2" style="left:183.7px;width:82.4px;top:268.6px;font-size:11.55px;color:#fff;">Mn (2024)</div>
<div class="c" id="cagr" style="left:184.8px;width:82px;top:319.1px;font-size:13px;letter-spacing:0.2px;">CAGR</div>
<div class="c" id="yrs" style="left:184.4px;width:82px;top:335.4px;font-size:13.3px;color:#7db264;">(2025-2034)</div>
<div class="a" style="left:183.6px;top:352.1px;width:82.2px;height:27.3px;background:#70ad47;"></div>
<div class="c" id="pct" style="left:186.9px;width:82px;top:358.3px;font-size:15.6px;color:#fff;">17.9%</div>

<!-- section headings -->
<div class="t" id="h1" style="left:294.2px;top:44.9px;font-size:12.3px;">By Application:</div>
<div class="t" id="h2" style="left:486.4px;top:46.3px;font-size:12.3px;">By Application:</div>
<div class="t" id="h3" style="left:483.6px;top:229.5px;font-size:12.3px;letter-spacing:0.06px;">By Technology:</div>
<div class="t" id="y1" style="left:310.5px;top:208.4px;font-size:12.3px;">2024</div>
<div class="t" id="y2" style="left:311.9px;top:381.7px;font-size:12.3px;">2034</div>

<!-- bottom -->
<div class="t" id="kp" style="left:21.6px;top:427.5px;font-size:12.3px;">Key Players:</div>
<div class="a" style="left:11.3px;top:450.3px;width:233px;height:34px;background:#72b239;"></div>
<div class="a" style="left:243.9px;top:450.2px;width:598.3px;height:34px;background:#000;"></div>
<div class="t" id="phone" style="left:31.8px;top:456.9px;font-size:15px;letter-spacing:1.84px;color:#151515;-webkit-text-stroke:0.3px #151515;">US: +1 607 400-7072</div>
<div class="t" id="email" style="left:251.2px;top:460.8px;font-size:14.7px;color:#fff;font-weight:normal;">Email: info@insightaceanalytic.com</div>
<div class="t" id="iaa" style="left:647.3px;top:460.2px;font-size:10.5px;letter-spacing:3.6px;color:#fff;">INSIGHT ACE ANALYTIC</div>
<!--IAA-->
<svg width="860" height="484" viewBox="0 0 860 484" style="z-index:5">
  <g transform="translate(615 446) scale(0.0744)">
    <rect x="120" y="68" width="45" height="47" fill="#6ab04c"/>
    <path d="M120 135Q255 140 255 270V375H215V320H160V375H120ZM160 200Q210 210 215 290H160Z" fill="#fff" fill-rule="evenodd"/>
  </g>
</svg>

<!--/IAA-->
</body>
</html>
